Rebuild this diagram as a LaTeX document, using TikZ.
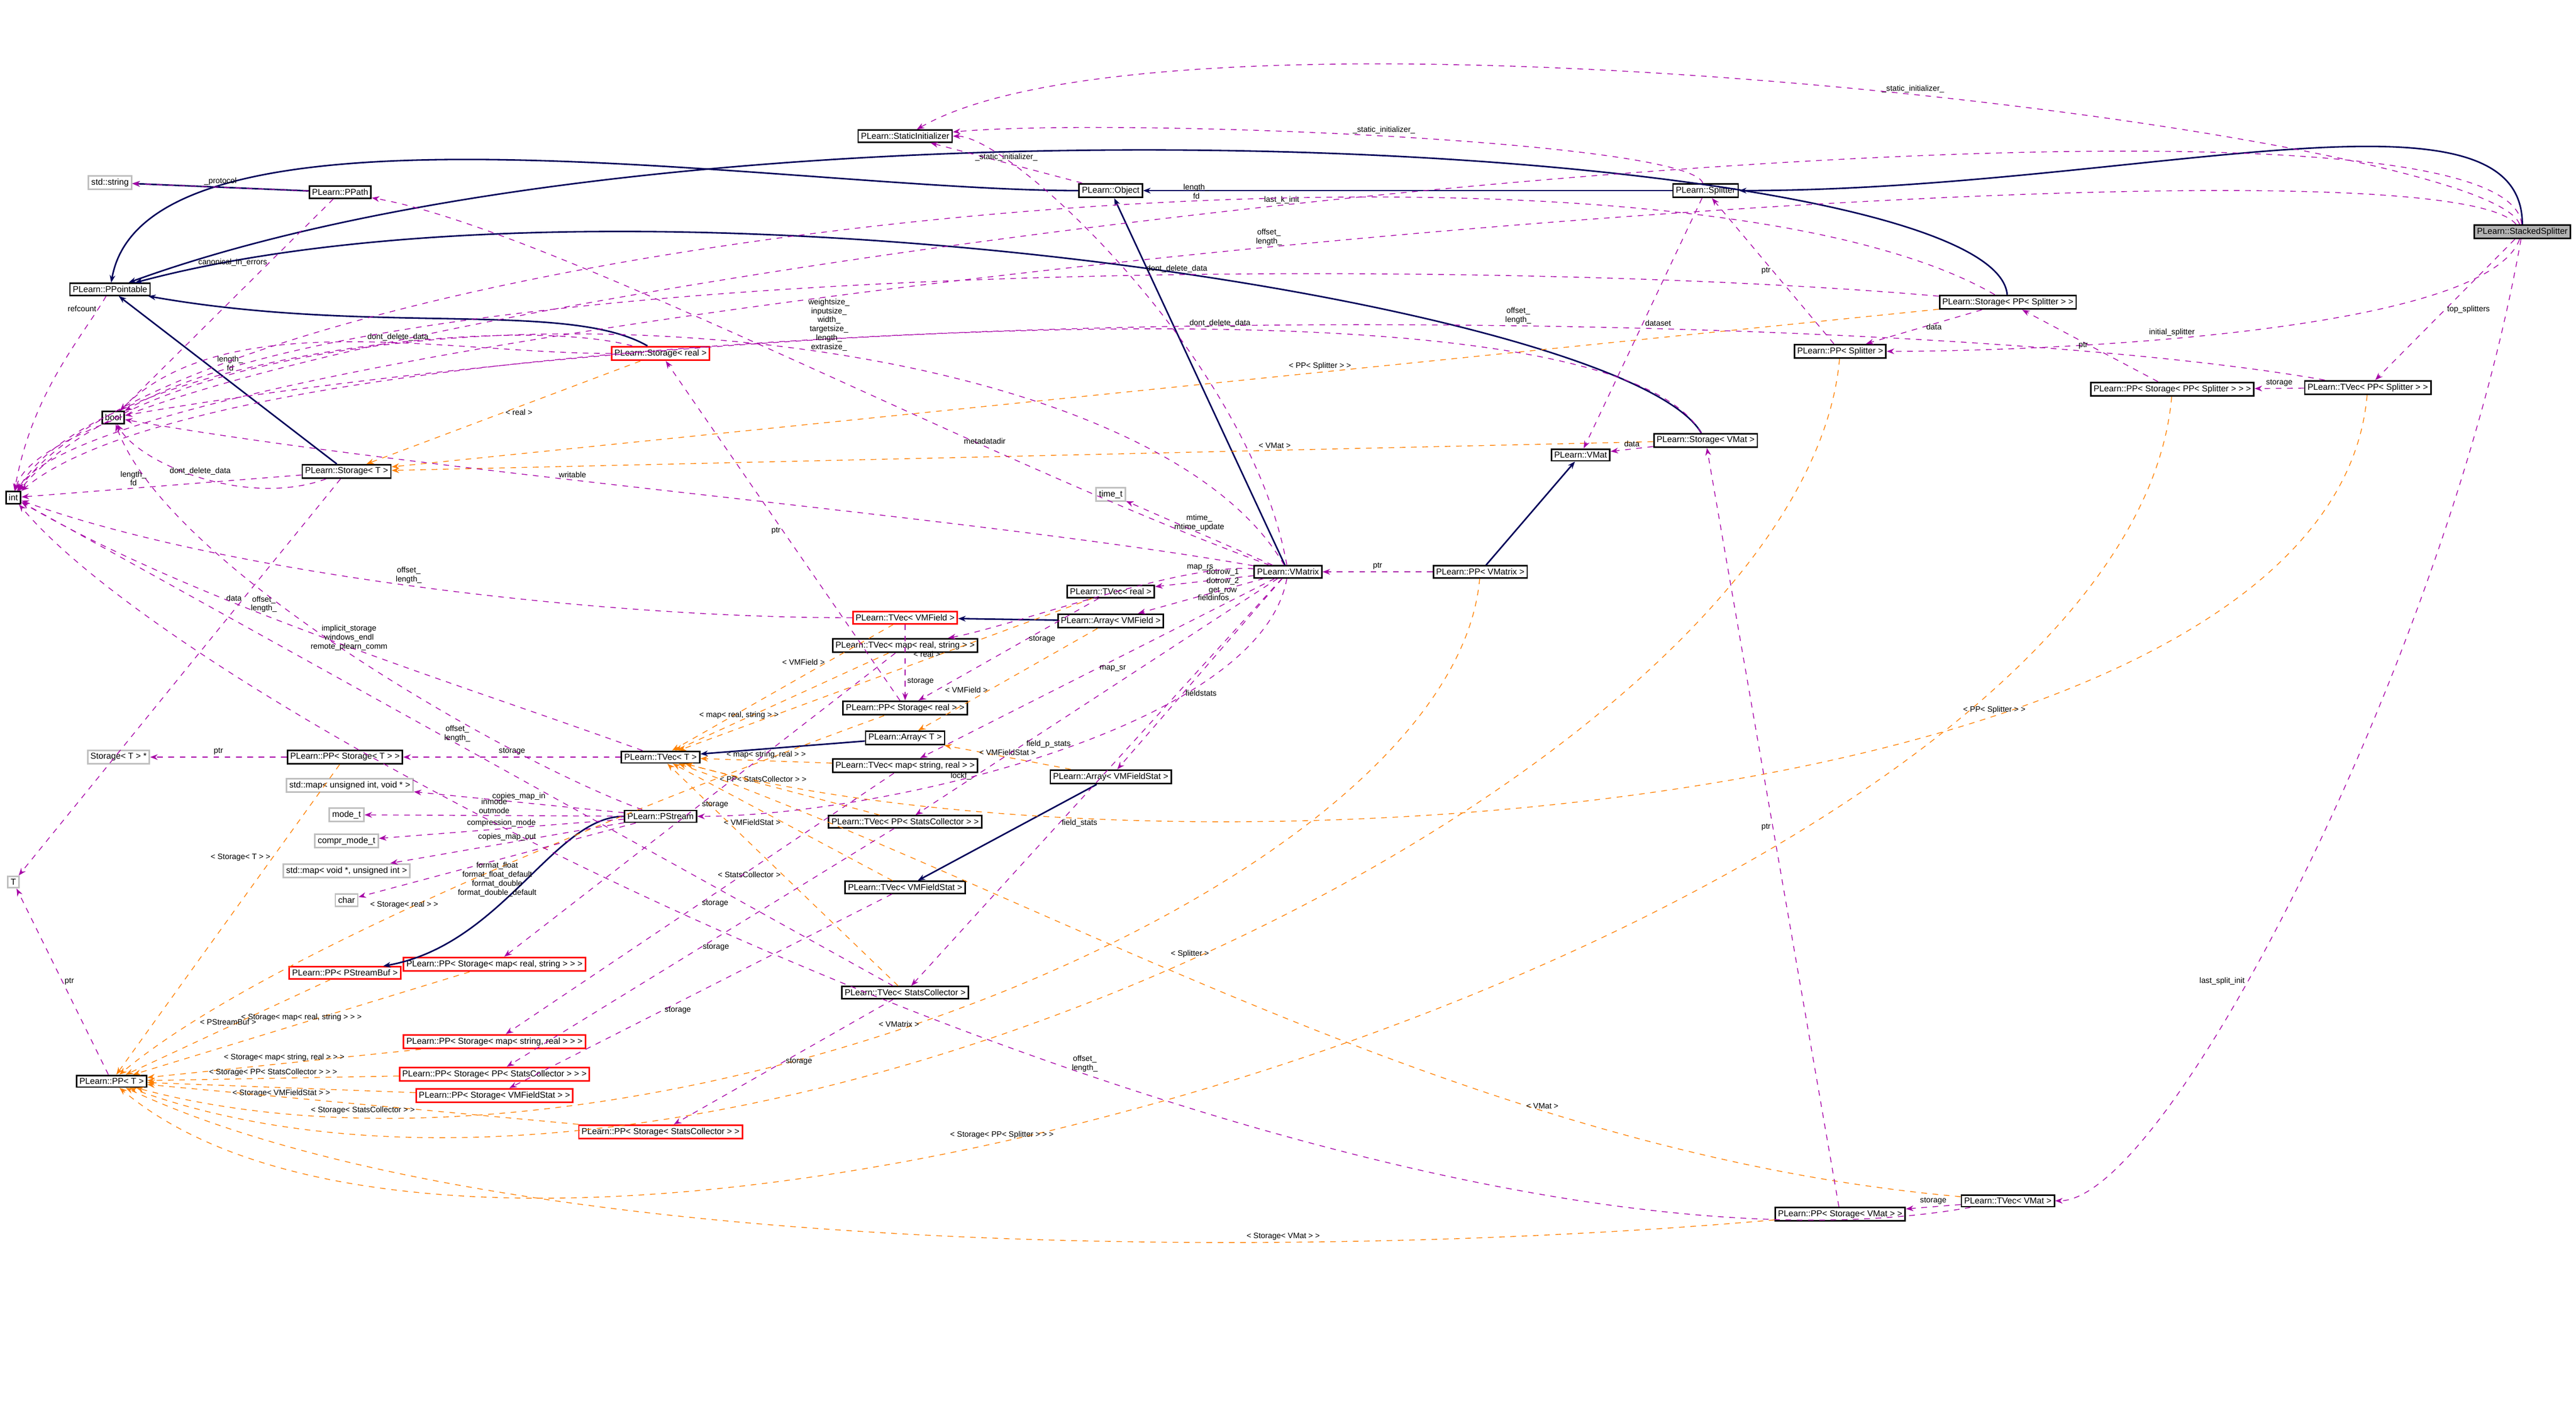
\documentclass[tikz,border=0pt]{standalone}
\usepackage{fontspec}
\setmainfont{Liberation Sans}
\usetikzlibrary{arrows.meta}
\tikzset{
  cls/.style={draw=black,thick,fill=white,inner sep=1.5pt,font=\fontsize{4.6}{5}\selectfont},
  tpl/.style={cls,draw=red},
  ext/.style={cls,draw=black!25},
  top/.style={cls,fill=black!30},
  inh/.style={draw=blue!35!black,thick,-{Stealth[length=4pt,width=3pt]}},
  use/.style={draw=violet!70!magenta,dashed,-{Stealth[length=4pt,width=3pt]}},
  inst/.style={draw=orange,dashed,-{Stealth[length=4pt,width=3pt]}},
  lbl/.style={font=\fontsize{4.2}{4.8}\selectfont,align=center,fill=none,inner sep=1pt}
}
\begin{document}
\begin{tikzpicture}
  \useasboundingbox (0,0) rectangle (48.24,-26.23);
  % classes
  \node[top,anchor=east] (stacked) at (48.15,-4.34) {PLearn::StackedSplitter};
  \node[cls] (splitter) at (31.94,-3.57) {PLearn::Splitter};
  \node[cls] (object) at (20.80,-3.57) {PLearn::Object};
  \node[cls] (sinit) at (16.95,-2.55) {PLearn::StaticInitializer};
  \node[ext] (string) at (2.06,-3.42) {std::string};
  \node[cls] (ppath) at (6.37,-3.60) {PLearn::PPath};
  \node[cls] (ppointable) at (2.06,-5.42) {PLearn::PPointable};
  \node[cls] (bool) at (2.12,-7.82) {bool};
  \node[cls] (int) at (0.25,-9.32) {int};
  \node[tpl] (streal) at (12.37,-6.62) {PLearn::Storage< real >};
  \node[cls] (stT) at (6.49,-8.83) {PLearn::Storage< T >};
  \node[ext] (T) at (0.25,-16.52) {T};
  \node[ext] (stTptr) at (2.22,-14.18) {Storage< T > *};
  \node[cls] (ppstT) at (6.46,-14.18) {PLearn::PP< Storage< T > >};
  \node[cls] (tvecT) at (12.37,-14.18) {PLearn::TVec< T >};
  \node[ext] (mapuv) at (6.55,-14.71) {std::map< unsigned int, void * >};
  \node[ext] (modet) at (6.49,-15.26) {mode\_t};
  \node[ext] (compr) at (6.49,-15.75) {compr\_mode\_t};
  \node[ext] (mapvu) at (6.49,-16.31) {std::map< void *, unsigned int >};
  \node[ext] (char) at (6.49,-16.86) {char};
  \node[cls] (pstream) at (12.37,-15.29) {PLearn::PStream};
  \node[tpl] (ppbuf) at (6.46,-18.22) {PLearn::PP< PStreamBuf >};
  \node[tpl] (ppsmrs) at (9.26,-18.06) {PLearn::PP< Storage< map< real, string > > >};
  \node[tpl] (ppsmsr) at (9.26,-19.51) {PLearn::PP< Storage< map< string, real > > >};
  \node[tpl] (ppsppsc) at (9.26,-20.12) {PLearn::PP< Storage< PP< StatsCollector > > >};
  \node[tpl] (ppsvmfs) at (9.26,-20.52) {PLearn::PP< Storage< VMFieldStat > >};
  \node[tpl] (ppssc) at (12.37,-21.20) {PLearn::PP< Storage< StatsCollector > >};
  \node[cls] (ppT) at (2.09,-20.25) {PLearn::PP< T >};
  \node[tpl] (tvecvmf) at (16.95,-11.57) {PLearn::TVec< VMField >};
  \node[cls] (tvecmrs) at (16.95,-12.09) {PLearn::TVec< map< real, string > >};
  \node[cls] (ppsreal) at (16.95,-13.26) {PLearn::PP< Storage< real > >};
  \node[cls] (arrT) at (16.95,-13.82) {PLearn::Array< T >};
  \node[cls] (tvecmsr) at (16.95,-14.34) {PLearn::TVec< map< string, real > >};
  \node[cls] (tvecppsc) at (16.95,-15.39) {PLearn::TVec< PP< StatsCollector > >};
  \node[cls] (tvecvmfs) at (16.95,-16.62) {PLearn::TVec< VMFieldStat >};
  \node[cls] (tvecsc) at (16.95,-18.59) {PLearn::TVec< StatsCollector >};
  \node[ext] (timet) at (20.80,-9.26) {time\_t};
  \node[cls] (tvecreal) at (20.80,-11.08) {PLearn::TVec< real >};
  \node[cls] (arrvmf) at (20.80,-11.63) {PLearn::Array< VMField >};
  \node[cls] (arrvmfs) at (20.80,-14.55) {PLearn::Array< VMFieldStat >};
  \node[cls] (vmatrix) at (24.12,-10.71) {PLearn::VMatrix};
  \node[cls] (ppvmatrix) at (27.72,-10.71) {PLearn::PP< VMatrix >};
  \node[cls] (vmat) at (29.60,-8.52) {PLearn::VMat};
  \node[cls] (stvmat) at (31.94,-8.25) {PLearn::Storage< VMat >};
  \node[cls] (ppsplit) at (34.46,-6.58) {PLearn::PP< Splitter >};
  \node[cls] (stppsplit) at (37.60,-5.66) {PLearn::Storage< PP< Splitter > >};
  \node[cls] (ppstppsplit) at (40.68,-7.29) {PLearn::PP< Storage< PP< Splitter > > >};
  \node[cls] (tvecppsplit) at (44.34,-7.26) {PLearn::TVec< PP< Splitter > >};
  \node[cls] (tvecvmat) at (37.60,-22.49) {PLearn::TVec< VMat >};
  \node[cls] (ppsvmat) at (34.46,-22.74) {PLearn::PP< Storage< VMat > >};
  % inheritance
  \draw[inh] (stacked) .. controls +(90:3) and +(0:8) .. (splitter);
  \draw[inh] (splitter) -- (object);
  \draw[inh] (object) .. controls +(180:6) and +(80:4) .. (ppointable);
  \draw[inh] (ppath) -- (string);
  \draw[inh] (stppsplit) .. controls +(95:3) and +(20:12) .. (ppointable);
  \draw[inh] (stvmat) .. controls +(120:3) and +(15:10) .. (ppointable);
  \draw[inh] (streal) .. controls +(150:2) and +(-10:5) .. (ppointable);
  \draw[inh] (stT) -- (ppointable);
  \draw[inh] (vmatrix) -- (object);
  \draw[inh] (ppvmatrix) -- (vmat);
  \draw[inh] (arrvmf) -- (tvecvmf);
  \draw[inh] (arrT) -- (tvecT);
  \draw[inh] (arrvmfs) -- (tvecvmfs);
  \draw[inh] (pstream) .. controls +(180:2) and +(10:3) .. (ppbuf);
  % template instances
  \draw[inst] (streal) -- node[lbl,right]{< real >} (stT);
  \draw[inst] (stppsplit) -- node[lbl,pos=.4,above]{< PP< Splitter > >} (stT);
  \draw[inst] (stvmat) -- node[lbl,pos=.3,above]{< VMat >} (stT);
  \draw[inst] (ppstT) -- node[lbl,pos=.3,left]{< Storage< T > >} (ppT);
  \draw[inst] (ppbuf) -- node[lbl,above]{< PStreamBuf >} (ppT);
  \draw[inst] (ppsmrs) -- node[lbl,above]{< Storage< map< real, string > > >} (ppT);
  \draw[inst] (ppsmsr) -- node[lbl,above]{< Storage< map< string, real > > >} (ppT);
  \draw[inst] (ppsppsc) -- node[lbl,above]{< Storage< PP< StatsCollector > > >} (ppT);
  \draw[inst] (ppsvmfs) -- node[lbl,below]{< Storage< VMFieldStat > >} (ppT);
  \draw[inst] (ppssc) -- node[lbl,below]{< Storage< StatsCollector > >} (ppT);
  \draw[inst] (ppsreal) .. controls +(200:4) and +(40:4) .. (ppT) node[lbl,pos=.6,above]{< Storage< real > >};
  \draw[inst] (ppvmatrix) .. controls +(-95:6) and +(-15:10) .. (ppT) node[lbl,pos=.55,above]{< VMatrix >};
  \draw[inst] (ppsplit) .. controls +(-95:8) and +(-20:12) .. (ppT) node[lbl,pos=.5,above]{< Splitter >};
  \draw[inst] (ppsvmat) .. controls +(185:10) and +(-25:8) .. (ppT) node[lbl,pos=.3,above]{< Storage< VMat > >};
  \draw[inst] (ppstppsplit) .. controls +(-95:10) and +(-40:10) .. (ppT) node[lbl,pos=.6,above]{< Storage< PP< Splitter > > >};
  \draw[inst] (tvecvmf) -- node[lbl,pos=.3,left]{< VMField >} (tvecT);
  \draw[inst] (tvecmrs) -- node[lbl,pos=.7,above]{< map< real, string > >} (tvecT);
  \draw[inst] (tvecreal) -- node[lbl,pos=.4,above]{< real >} (tvecT);
  \draw[inst] (tvecmsr) -- node[lbl,above]{< map< string, real > >} (tvecT);
  \draw[inst] (tvecppsc) -- node[lbl,pos=.6,above]{< PP< StatsCollector > >} (tvecT);
  \draw[inst] (tvecvmfs) -- node[lbl,pos=.5,left]{< VMFieldStat >} (tvecT);
  \draw[inst] (tvecsc) -- node[lbl,pos=.5,left]{< StatsCollector >} (tvecT);
  \draw[inst] (tvecvmat) .. controls +(175:10) and +(-20:8) .. (tvecT) node[lbl,pos=.3,above]{< VMat >};
  \draw[inst] (tvecppsplit) .. controls +(-95:8) and +(-15:10) .. (tvecT) node[lbl,pos=.35,above]{< PP< Splitter > >};
  \draw[inst] (arrvmf) -- node[lbl,pos=.6,left]{< VMField >} (arrT);
  \draw[inst] (arrvmfs) -- node[lbl,pos=.5,above]{< VMFieldStat >} (arrT);
  % members
  \draw[use] (stacked) .. controls +(95:4) and +(75:4) .. (int) node[lbl,pos=.5,above]{last\_k\_init};
  \draw[use] (stacked) .. controls +(110:2) and +(30:6) .. (sinit) node[lbl,pos=.45,above]{\_static\_initializer\_};
  \draw[use] (stacked) .. controls +(130:3) and +(60:4) .. (int) node[lbl,pos=.5,above]{offset\_\\length\_};
  \draw[use] (stacked) .. controls +(-110:2) and +(0:4) .. (ppsplit) node[lbl,pos=.6,above]{initial\_splitter};
  \draw[use] (stacked) -- node[lbl,right]{top\_splitters} (tvecppsplit);
  \draw[use] (stacked) .. controls +(-100:8) and +(0:3) .. (tvecvmat) node[lbl,pos=.6,left]{last\_split\_init};
  \draw[use] (splitter) .. controls +(110:1) and +(5:4) .. (sinit) node[lbl,pos=.5,above]{\_static\_initializer\_};
  \draw[use] (splitter) -- node[lbl,right]{dataset} (vmat);
  \draw[use] (object) -- node[lbl,above]{\_static\_initializer\_} (sinit);
  \draw[use] (ppath) -- node[lbl,above]{\_protocol} (string);
  \draw[use] (ppath) -- node[lbl,pos=.3,left]{canonical\_in\_errors} (bool);
  \draw[use] (ppointable) .. controls +(-120:1) and +(80:2) .. (int) node[lbl,pos=.1,left]{refcount};
  \draw[use] (streal) .. controls +(165:3) and +(60:3) .. (int) node[lbl,pos=.6,above]{length\_\\fd};
  \draw[use] (streal) .. controls +(180:4) and +(45:3) .. (bool) node[lbl,pos=.4,above]{dont\_delete\_data};
  \draw[use] (stT) .. controls +(200:2) and +(-60:1) .. (bool) node[lbl,pos=.5,above]{dont\_delete\_data};
  \draw[use] (stT) -- node[lbl,pos=.6,above]{length\_\\fd} (int);
  \draw[use] (stT) -- node[lbl,pos=.3,left]{data} (T);
  \draw[use] (stppsplit) .. controls +(175:10) and +(30:6) .. (bool) node[lbl,pos=.4,above]{dont\_delete\_data};
  \draw[use] (stppsplit) -- node[lbl,right]{data} (ppsplit);
  \draw[use] (stppsplit) .. controls +(150:8) and +(55:6) .. (int) node[lbl,pos=.4,above]{length\_\\fd};
  \draw[use] (stvmat) .. controls +(120:4) and +(10:8) .. (bool) node[lbl,pos=.4,above]{dont\_delete\_data};
  \draw[use] (stvmat) -- node[lbl,above]{data} (vmat);
  \draw[use] (ppsplit) -- node[lbl,left]{ptr} (splitter);
  \draw[use] (ppstppsplit) -- node[lbl,left]{ptr} (stppsplit);
  \draw[use] (tvecppsplit) -- node[lbl,above]{storage} (ppstppsplit);
  \draw[use] (tvecppsplit) .. controls +(170:10) and +(40:6) .. (int) node[lbl,pos=.35,above]{offset\_\\length\_};
  \draw[use] (ppvmatrix) -- node[lbl,above]{ptr} (vmatrix);
  \draw[use] (vmatrix) .. controls +(120:6) and +(50:6) .. (int) node[lbl,pos=.4,above]{weightsize\_\\inputsize\_\\width\_\\targetsize\_\\length\_\\extrasize\_};
  \draw[use] (vmatrix) .. controls +(170:6) and +(-10:6) .. (bool) node[lbl,pos=.6,above]{writable};
  \draw[use] (vmatrix) .. controls +(100:4) and +(0:2) .. (sinit);
  \draw[use] (vmatrix) -- node[lbl,above]{mtime\_\\mtime\_update} (timet);
  \draw[use] (vmatrix) -- node[lbl,right]{dotrow\_1\\dotrow\_2\\get\_row} (tvecreal);
  \draw[use] (vmatrix) -- node[lbl,pos=.4,below]{fieldinfos} (arrvmf);
  \draw[use] (vmatrix) .. controls +(175:2) and +(10:2) .. (tvecmrs) node[lbl,pos=.2,above]{map\_rs};
  \draw[use] (vmatrix) -- node[lbl,pos=.5,right]{map\_sr} (tvecmsr);
  \draw[use] (vmatrix) -- node[lbl,pos=.6,right]{fieldstats} (arrvmfs);
  \draw[use] (vmatrix) -- node[lbl,pos=.7,right]{field\_p\_stats} (tvecppsc);
  \draw[use] (vmatrix) -- node[lbl,pos=.6,right]{field\_stats} (tvecsc);
  \draw[use] (vmatrix) .. controls +(160:6) and +(-10:4) .. (ppath) node[lbl,pos=.3,above]{metadatadir};
  \draw[use] (vmatrix) .. controls +(-100:3) and +(0:4) .. (pstream) node[lbl,pos=.6,left]{lockf\_};
  \draw[use] (ppstT) -- node[lbl,above]{ptr} (stTptr);
  \draw[use] (tvecT) -- node[lbl,above]{storage} (ppstT);
  \draw[use] (tvecT) .. controls +(160:4) and +(-30:4) .. (int) node[lbl,pos=.6,above]{offset\_\\length\_};
  \draw[use] (pstream) -- node[lbl,above]{copies\_map\_in} (mapuv);
  \draw[use] (pstream) -- node[lbl,above]{inmode\\outmode} (modet);
  \draw[use] (pstream) -- node[lbl,above]{compression\_mode} (compr);
  \draw[use] (pstream) -- node[lbl,above]{copies\_map\_out} (mapvu);
  \draw[use] (pstream) -- node[lbl,below]{format\_float\\format\_float\_default\\format\_double\\format\_double\_default} (char);
  \draw[use] (pstream) .. controls +(160:3) and +(-70:3) .. (bool) node[lbl,pos=.5,above]{implicit\_storage\\windows\_endl\\remote\_plearn\_comm};
  \draw[use] (ppT) -- node[lbl,right]{ptr} (T);
  \draw[use] (tvecvmf) .. controls +(180:6) and +(-20:4) .. (int) node[lbl,pos=.5,above]{offset\_\\length\_};
  \draw[use] (tvecvmf) -- node[lbl,pos=.75,right]{storage} (ppsreal);
  \draw[use] (tvecmrs) -- node[lbl,pos=.5,right]{storage} (ppsmrs);
  \draw[use] (tvecmsr) -- node[lbl,pos=.5,right]{storage} (ppsmsr);
  \draw[use] (tvecppsc) -- node[lbl,pos=.5,right]{storage} (ppsppsc);
  \draw[use] (tvecvmfs) -- node[lbl,pos=.6,right]{storage} (ppsvmfs);
  \draw[use] (tvecsc) -- node[lbl,pos=.5,right]{storage} (ppssc);
  \draw[use] (tvecsc) -- node[lbl,pos=.5,above]{offset\_\\length\_} (int);
  \draw[use] (tvecreal) -- node[lbl,pos=.4,right]{storage} (ppsreal);
  \draw[use] (ppsreal) -- node[lbl,pos=.5,left]{ptr} (streal);
  \draw[use] (tvecvmat) -- node[lbl,above]{storage} (ppsvmat);
  \draw[use] (ppsvmat) -- node[lbl,pos=.5,left]{ptr} (stvmat);
  \draw[use] (tvecvmat) .. controls +(190:12) and +(-50:6) .. (int) node[lbl,pos=.4,above]{offset\_\\length\_};
\end{tikzpicture}
\end{document}
